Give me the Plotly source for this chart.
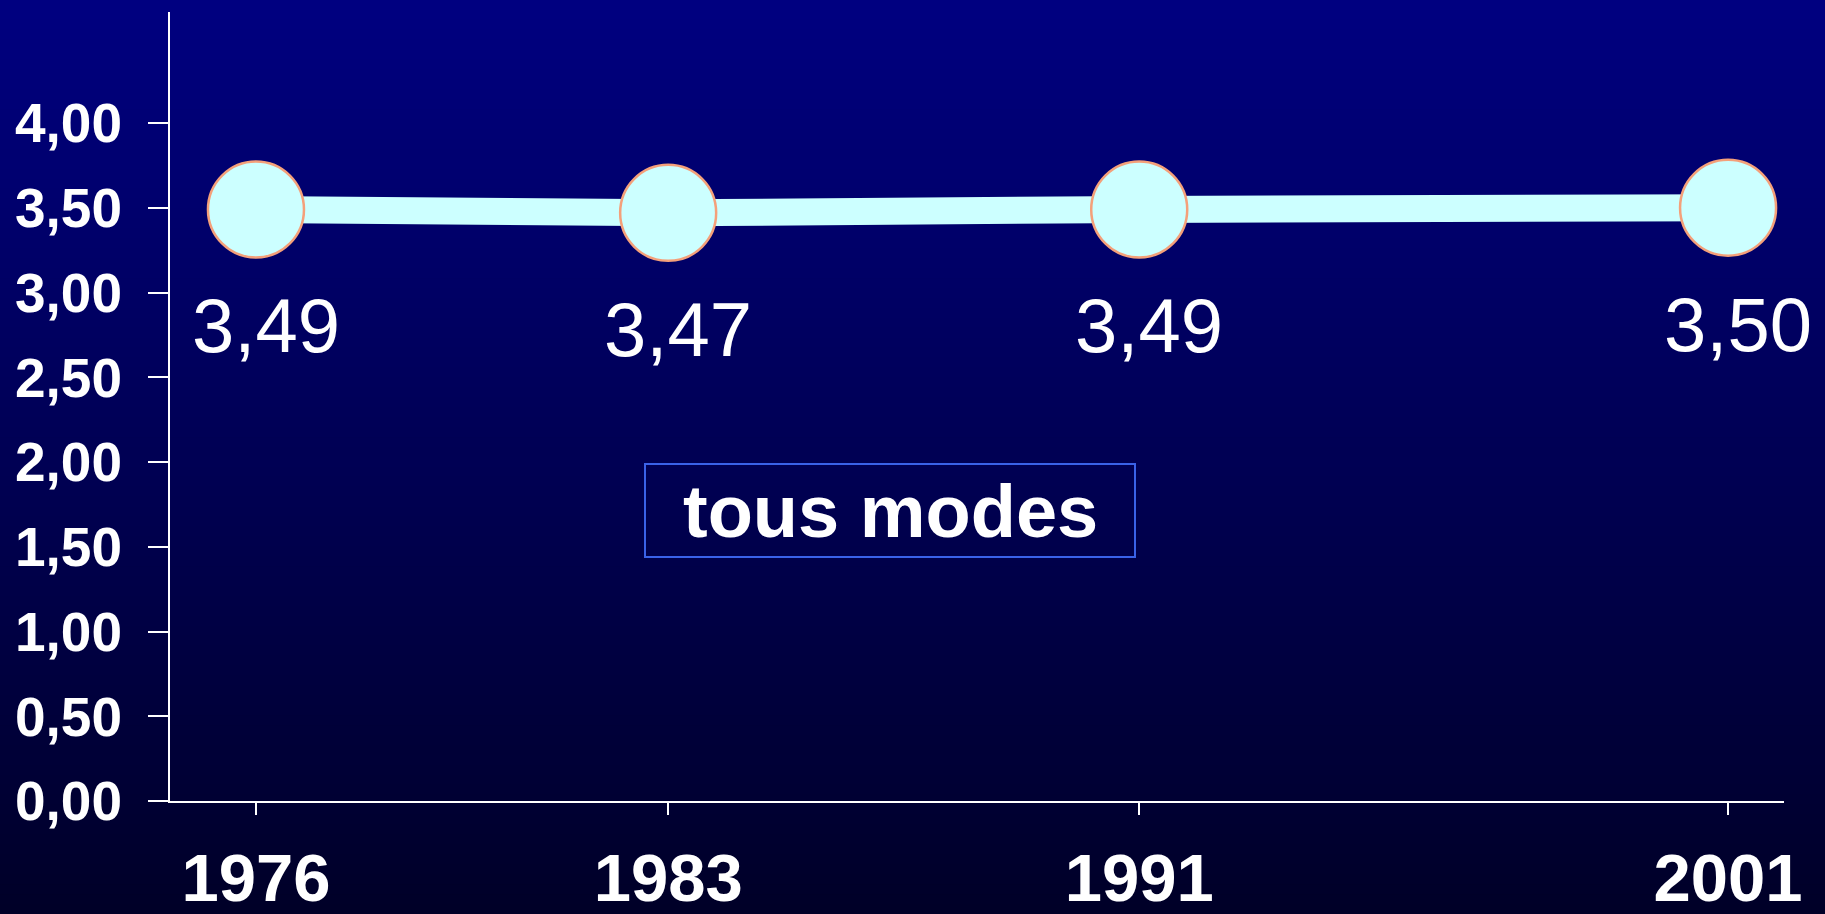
import plotly.graph_objects as go

years = [1976, 1983, 1991, 2001]
values = [3.49, 3.47, 3.49, 3.50]
y_ticks = [0, 0.5, 1, 1.5, 2, 2.5, 3, 3.5, 4]
box_label = "tous modes"

W, H = 1825, 914
L, R, T, B = 170, 41, 12, 113
pw, ph = W - L - R, H - T - B
FONT = "Liberation Sans, Arial, sans-serif"


def px_x(x):
    return (x - L) / pw


def px_y(y):
    return (H - B - y) / ph


fig = go.Figure()
fig.add_trace(go.Scatter(
    x=years, y=values, mode="lines+markers",
    line=dict(color="#CCFFFF", width=27),
    marker=dict(size=96, color="#CCFFFF", line=dict(color="#F4A07A", width=2.5)),
    hoverinfo="skip", showlegend=False,
))

# value labels under the points
for x, y in zip(years, values):
    fig.add_annotation(x=x, y=y, text=f"{y:.2f}".replace(".", ","), showarrow=False,
                       yanchor="top", yshift=-72, xshift=10,
                       font=dict(size=76, color="white", family=FONT))

# background gradient, navy at the top to almost black at the bottom
shapes = []
n = 92
top, bot = (0, 0, 128), (0, 0, 40)
for i in range(n):
    f = i / (n - 1)
    c = tuple(round(a + (b - a) * f) for a, b in zip(top, bot))
    y0 = H * i / n
    y1 = H * (i + 1) / n + 1
    shapes.append(dict(type="rect", xref="paper", yref="paper", layer="below",
                       x0=px_x(0), x1=px_x(W), y0=px_y(y1), y1=px_y(y0),
                       fillcolor="rgb(%d,%d,%d)" % c, line=dict(width=0)))

# framed label
shapes.append(dict(type="rect", xref="paper", yref="paper",
                   x0=px_x(645), x1=px_x(1135), y0=px_y(557), y1=px_y(464),
                   line=dict(color="#3A62E8", width=2)))
fig.add_annotation(xref="paper", yref="paper", x=px_x(890), y=px_y(511),
                   text="<b>" + box_label + "</b>", showarrow=False,
                   font=dict(size=74, color="white", family=FONT))

fig.update_layout(
    width=W, height=H,
    margin=dict(l=L, r=R, t=T, b=B, autoexpand=False),
    paper_bgcolor="rgb(0,0,40)", plot_bgcolor="rgba(0,0,0,0)",
    separators=", ",
    shapes=shapes,
    xaxis=dict(range=[1974.54, 2001.95], tickvals=years, showgrid=False, zeroline=False,
               automargin=False,
               showline=True, linecolor="white", linewidth=2,
               ticks="outside", ticklen=12, tickwidth=2, tickcolor="white",
               ticklabelstandoff=6,
               tickfont=dict(size=67, color="white", family=FONT, weight="bold")),
    yaxis=dict(range=[0, 4.655], tickvals=y_ticks, tickformat=".2f", showgrid=False,
               automargin=False,
               zeroline=False, showline=True, linecolor="white", linewidth=2,
               ticks="outside", ticklen=20, tickwidth=2, tickcolor="white",
               ticklabelstandoff=15,
               tickfont=dict(size=55, color="white", family=FONT, weight="bold")),
)

fig.write_html("out.html", config={"displayModeBar": False},
               post_script="document.body.style.margin='0';")
